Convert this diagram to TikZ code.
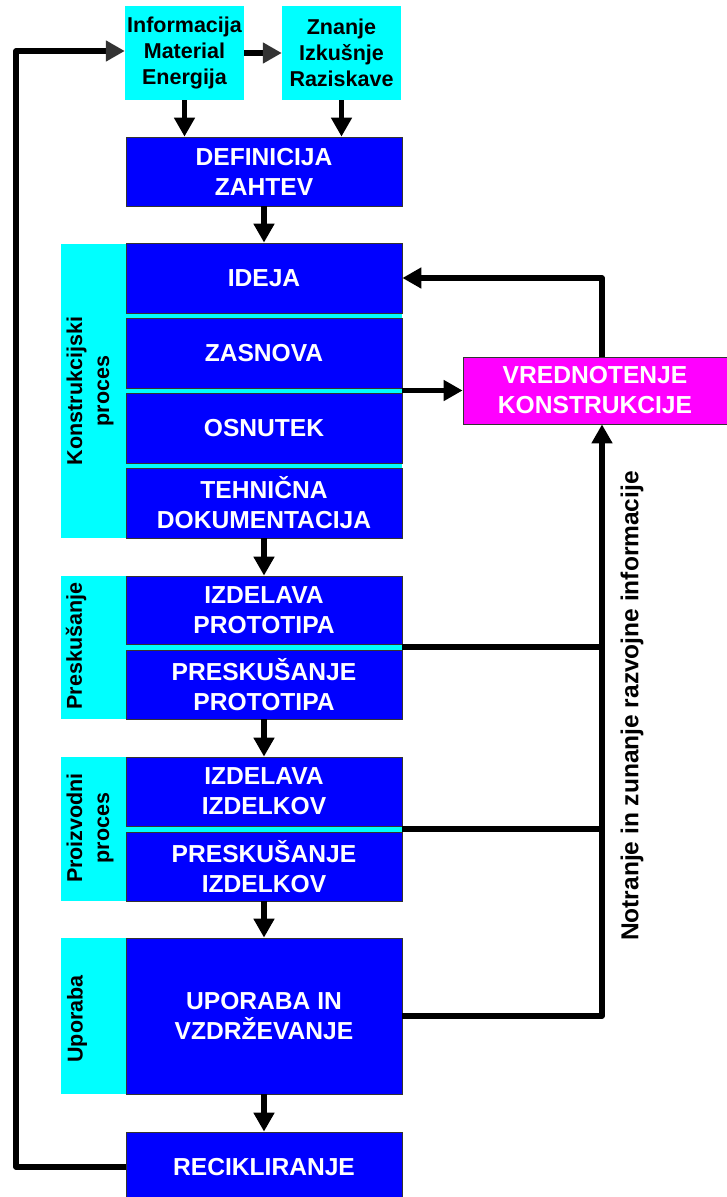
\documentclass[tikz,border=0pt]{standalone}
\usepackage{fontspec}
\setmainfont{Liberation Sans}
\usetikzlibrary{arrows.meta}
\definecolor{cy}{RGB}{0,255,255}
\definecolor{bl}{RGB}{0,0,255}
\definecolor{mg}{RGB}{255,0,255}
\tikzset{
  bluebox/.style={draw=black!80, line width=0.8pt, fill=bl, text=white, inner sep=0pt, align=center,
    font=\fontsize{24.6}{30}\selectfont\bfseries},
  topbox/.style={fill=cy, inner sep=0pt, align=center, text=black,
    minimum width=119pt, minimum height=94pt, font=\fontsize{21.5}{26}\selectfont\bfseries},
  sidebox/.style={fill=cy, inner sep=0pt},
  sidelabel/.style={rotate=90, align=center, text=black, font=\fontsize{21.5}{27}\selectfont\bfseries},
  magbox/.style={draw=black!80, line width=0.8pt, fill=mg, text=white, inner sep=0pt, align=center,
    font=\fontsize{24.6}{30}\selectfont\bfseries},
  conn/.style={line width=5.5pt, black, line join=round},
  arr/.style={conn, -{Triangle[length=19pt,width=20pt]}},
  grayarr/.style={conn, -{Triangle[length=19pt,width=20pt,color=black!80]}},
}
\begin{document}
\begin{tikzpicture}[x=1pt,y=-1pt]
\useasboundingbox (0,0) rectangle (727,1197);

% top cyan boxes
\node[topbox] (info) at (184.5,53) {Informacija\\Material\\Energija};
\node[topbox] (znanje) at (341.5,53) {Znanje\\Izkušnje\\Raziskave};

% definicija
\node[bluebox, minimum width=276pt, minimum height=69pt] (def) at (264,171.5) {DEFINICIJA\\ZAHTEV};

% group backgrounds
\node[sidebox, minimum width=341pt, minimum height=294pt] (g1) at (231.5,391) {};
\node[sidebox, minimum width=341pt, minimum height=143pt] (g2) at (231.5,647.5) {};
\node[sidebox, minimum width=341pt, minimum height=144pt] (g3) at (231.5,829) {};
\node[sidebox, minimum width=341pt, minimum height=156pt] (g4) at (231.5,1016) {};

% construction process
\node[bluebox, minimum width=276pt, minimum height=70pt] (ideja) at (264,278) {IDEJA};
\node[bluebox, minimum width=276pt, minimum height=70pt] (zas) at (264,353) {ZASNOVA};
\node[bluebox, minimum width=276pt, minimum height=70pt] (osn) at (264,428) {OSNUTEK};
\node[bluebox, minimum width=276pt, minimum height=70pt] (teh) at (264,503) {TEHNIČNA\\DOKUMENTACIJA};
\node[sidelabel] (l1) at (90,391) {Konstrukcijski\\proces};

% preskusanje
\node[bluebox, minimum width=276pt, minimum height=68pt] (izp) at (264,610) {IZDELAVA\\PROTOTIPA};
\node[bluebox, minimum width=276pt, minimum height=69pt] (prp) at (264,684.5) {PRESKUŠANJE\\PROTOTIPA};
\node[sidelabel] (l2) at (76,646) {Preskušanje};

% proizvodni proces
\node[bluebox, minimum width=276pt, minimum height=69pt] (izi) at (264,791.5) {IZDELAVA\\IZDELKOV};
\node[bluebox, minimum width=276pt, minimum height=69pt] (pri) at (264,866.5) {PRESKUŠANJE\\IZDELKOV};
\node[sidelabel] (l3) at (90,828) {Proizvodni\\proces};

% uporaba
\node[bluebox, minimum width=276pt, minimum height=156pt] (upo) at (264,1016) {UPORABA IN\\VZDRŽEVANJE};
\node[sidelabel] (l4) at (77,1019) {Uporaba};

% recikliranje
\node[bluebox, minimum width=276pt, minimum height=70pt] (rec) at (264,1167) {RECIKLIRANJE};

% vrednotenje
\node[magbox, minimum width=264pt, minimum height=67pt] (vred) at (595,390.5) {VREDNOTENJE\\KONSTRUKCIJE};

% side text
\node[rotate=90, font=\fontsize{24.5}{30}\selectfont\bfseries] (side) at (632,706) {Notranje in zunanje razvojne informacije};

% coordinates
\coordinate (fb) at (602,278);
\coordinate (lc) at (16,51);
\coordinate (j1) at (602,647);
\coordinate (j2) at (602,829);

% connectors
\draw[grayarr] (info.east) -- (znanje.west);
\draw[arr] (info.south) -- (info.south |- def.north);
\draw[arr] (znanje.south) -- (znanje.south |- def.north);
\draw[arr] (def.south) -- (ideja.north);
\draw[arr] (teh.south) -- (izp.north);
\draw[arr] (prp.south) -- (izi.north);
\draw[arr] (pri.south) -- (upo.north);
\draw[arr] (upo.south) -- (rec.north);

\draw[arr] (zas.south east |- vred.west) -- (vred.west);
\draw[arr] (vred.north -| fb) -- (fb) -- (ideja.east);
\draw[conn] (izp.south east |- j1) -- (j1);
\draw[conn] (izi.south east |- j2) -- (j2);
\draw[arr] (upo.east) -| (vred.south -| fb);
\draw[grayarr] (rec.west) -| (lc) -- (lc -| info.west);
\end{tikzpicture}
\end{document}
